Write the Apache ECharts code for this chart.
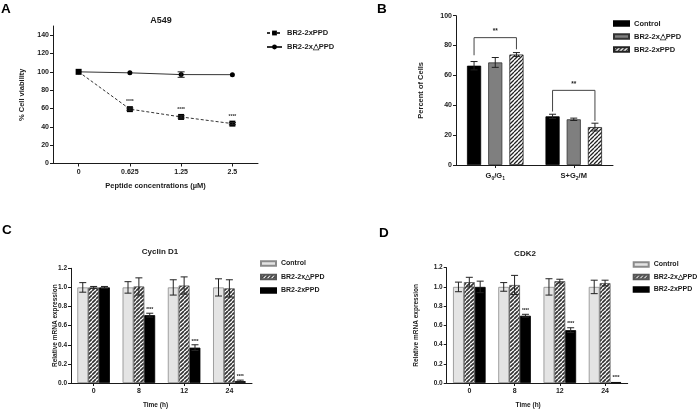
<!DOCTYPE html>
<html><head><meta charset="utf-8">
<script src="https://cdn.jsdelivr.net/npm/echarts@6/dist/echarts.min.js"></script>
<style>
html,body{margin:0;padding:0;background:#fff;}
.p{position:absolute;width:350px;height:207px;}
</style></head>
<body>
<div id="A" class="p" style="left:0;top:0"></div>
<div id="B" class="p" style="left:350px;top:0"></div>
<div id="C" class="p" style="left:0;top:207px"></div>
<div id="D" class="p" style="left:350px;top:207px"></div>
<script>
// ---------- DATA ----------
// Panel A
const concA = ['0', '0.625', '1.25', '2.5'];
const ppdA = [100, 59.3, 50.8, 43.5];
const ppdAErr = [0.8, 1.2, 1.2, 1.2];
const dppdA = [100, 98.9, 97.0, 96.9];
const dppdAErr = [0.8, 0.8, 3.0, 0.8];
const sigA = ['', '****', '****', '****'];
const yTicksA = [0, 20, 40, 60, 80, 100, 120, 140];
// Panel B
const phasesB = ['G0/G1', 'S+G2/M'];
const ctrlB = [66.5, 32.6];
const ctrlBErr = [2.8, 1.4];
const dppdB = [68.7, 30.6];
const dppdBErr = [3.3, 0.8];
const ppdB = [74.0, 25.4];
const ppdBErr = [1.3, 2.6];
// brackets: [category, bracket height, left leg end, right leg end]
const bracketsB = [[0, 85.3, 73.5, 77.5], [1, 50.0, 35.8, 29.5]];
const sigB = ['**', '**'];
// Panel C (Cyclin D1)
const timesCD = ['0', '8', '12', '24'];
const ctrlC = [1.0, 1.0, 1.0, 1.0];
const ctrlCErr = [0.05, 0.06, 0.08, 0.09];
const dppdC = [1.0, 1.01, 1.02, 0.99];
const dppdCErr = [0.01, 0.09, 0.09, 0.09];
const ppdC = [1.0, 0.71, 0.37, 0.02];
const ppdCErr = [0.01, 0.02, 0.03, 0.01];
const sigC = ['', '****', '****', '****'];
// Panel D (CDK2)
const ctrlD = [1.0, 1.0, 1.0, 1.0];
const ctrlDErr = [0.05, 0.045, 0.085, 0.07];
const dppdD = [1.05, 1.02, 1.06, 1.04];
const dppdDErr = [0.05, 0.10, 0.02, 0.03];
const ppdD = [1.0, 0.70, 0.55, 0.01];
const ppdDErr = [0.06, 0.015, 0.025, 0.005];
const sigD = ['', '****', '****', '****'];

// ---------- STYLE HELPERS ----------
const FONT = '"Liberation Sans", Arial, Helvetica, sans-serif';
const INK = '#1a1a1a';

function hatch(size, lw, fg, bg) {
  const c = document.createElement('canvas');
  c.width = size; c.height = size;
  const g = c.getContext('2d');
  g.fillStyle = bg; g.fillRect(0, 0, size, size);
  g.strokeStyle = fg; g.lineWidth = lw;
  g.beginPath();
  for (let k = -1; k <= 1; k++) { g.moveTo(k * size, size); g.lineTo(k * size + size, 0); }
  g.stroke();
  return { image: c, repeat: 'repeat' };
}

function axisBase(extra) {
  return Object.assign({
    nameMoveOverlap: false,
    axisLine: { show: true, lineStyle: { color: INK, width: 1 } },
    axisTick: { show: true, length: 3, lineStyle: { color: INK, width: 1 } },
    axisLabel: { color: INK, fontFamily: FONT, fontWeight: 'bold', fontSize: 7, margin: 4 },
    splitLine: { show: false },
    nameTextStyle: { color: INK, fontFamily: FONT, fontWeight: 'bold', fontSize: 7.5 }
  }, extra);
}

function errSeries(means, errs, offFrac, stars, starFont) {
  return {
    type: 'custom', z: 6, silent: true,
    data: means.map((m, i) => [i, m, errs[i]]),
    encode: { x: 0, y: 1 },
    renderItem(params, api) {
      const i = api.value(0), m = api.value(1), e = api.value(2);
      const band = api.size([1, 0])[0];
      const p = api.coord([i, m]);
      const x = p[0] + offFrac * band;
      const top = api.coord([i, m + e])[1];
      const bot = api.coord([i, Math.max(0, m - e)])[1];
      const cap = 3.5;
      const st = { stroke: '#222', lineWidth: 1 };
      const ch = [];
      if (Math.abs(bot - top) > 1.5) {
        ch.push({ type: 'line', shape: { x1: x, y1: top, x2: x, y2: bot }, style: st });
        ch.push({ type: 'line', shape: { x1: x - cap, y1: top, x2: x + cap, y2: top }, style: st });
        ch.push({ type: 'line', shape: { x1: x - cap, y1: bot, x2: x + cap, y2: bot }, style: st });
      }
      if (stars && stars[i]) {
        ch.push({ type: 'text', style: { text: stars[i], x: x, y: top - 1, align: 'center', verticalAlign: 'bottom',
          fontSize: starFont || 5, fontWeight: 'bold', fontFamily: FONT, fill: '#222' } });
      }
      return { type: 'group', children: ch };
    }
  };
}

function letter(t, x, y) {
  return { type: 'text', left: x, top: y, style: { text: t, fontSize: 13.5, fontWeight: 'bold', fontFamily: FONT, fill: '#000' } };
}

// ---------- PANEL A ----------
const chA = echarts.init(document.getElementById('A'), null, { renderer: 'canvas' });
chA.setOption({
  animation: false,
  graphic: [letter('A', 1, 2)],
  title: { text: 'A549', left: 156, top: 11, textAlign: 'center',
    textStyle: { fontFamily: FONT, fontWeight: 'bold', fontSize: 9, color: INK } },
  legend: {
    orient: 'vertical', left: 266, top: 29, padding: 0, itemWidth: 15, itemHeight: 6, itemGap: 6,
    textStyle: { fontFamily: FONT, fontWeight: 'bold', fontSize: 7.5, color: INK },
    data: ['BR2-2xPPD', 'BR2-2x\u25B3PPD']
  },
  grid: { left: 53, top: 26, width: 205, height: 137.5, containLabel: false },
  xAxis: axisBase({ type: 'category', data: concA, boundaryGap: true,
    axisTick: { show: true, length: 3, alignWithLabel: true, lineStyle: { color: INK } },
    axisLabel: { color: INK, fontFamily: FONT, fontWeight: 'bold', fontSize: 7, margin: 5, interval: 0 },
    name: 'Peptide concentrations (\u00B5M)', nameLocation: 'middle', nameGap: 18 }),
  yAxis: axisBase({ type: 'value', min: 0, max: 150, interval: 10,
    axisTick: { show: true, length: 3, customValues: yTicksA, lineStyle: { color: INK } },
    axisLabel: { color: INK, fontFamily: FONT, fontWeight: 'bold', fontSize: 7, margin: 4, customValues: yTicksA },
    name: '% Cell viability', nameLocation: 'middle', nameGap: 27 }),
  series: [
    { name: 'BR2-2xPPD', type: 'line', data: ppdA, symbol: 'rect', symbolSize: 6,
      lineStyle: { color: '#333', width: 1, type: [3, 2] }, itemStyle: { color: '#000' },
      label: { show: true, position: 'top', distance: 2, fontSize: 5, fontWeight: 'bold', fontFamily: FONT, color: '#333',
        formatter: p => sigA[p.dataIndex] } },
    { name: 'BR2-2x\u25B3PPD', type: 'line', data: dppdA, symbol: 'circle', symbolSize: 5,
      lineStyle: { color: '#333', width: 1 }, itemStyle: { color: '#000' } },
    errSeries(ppdA, ppdAErr, 0),
    errSeries(dppdA, dppdAErr, 0)
  ]
});

// ---------- PANEL B ----------
const hatchB = hatch(4, 1.3, '#222', '#fff');
const chB = echarts.init(document.getElementById('B'), null, { renderer: 'canvas' });
const bw = '18%';
chB.setOption({
  animation: false,
  graphic: [letter('B', 27, 2)],
  legend: {
    orient: 'vertical', left: 263, top: 19.5, padding: 0, itemWidth: 15, itemHeight: 4.5, itemGap: 5,
    icon: 'rect',
    textStyle: { fontFamily: FONT, fontWeight: 'bold', fontSize: 7.5, color: INK },
    data: ['Control', 'BR2-2x\u25B3PPD', 'BR2-2xPPD']
  },
  grid: { left: 106, top: 15.7, width: 157, height: 149.3 },
  xAxis: axisBase({ type: 'category', data: phasesB,
    axisTick: { show: true, length: 3, alignWithLabel: true, lineStyle: { color: INK } },
    axisLabel: { color: INK, fontFamily: FONT, fontWeight: 'bold', fontSize: 7.5, margin: 6, interval: 0,
      formatter: v => v === 'G0/G1' ? '{n|G}{s|0}{n|/G}{s|1}' : '{n|S+G}{s|2}{n|/M}',
      rich: { n: { fontSize: 7.5, fontWeight: 'bold', fontFamily: FONT, color: INK, lineHeight: 10 },
              s: { fontSize: 5, fontWeight: 'bold', fontFamily: FONT, color: INK, lineHeight: 6, verticalAlign: 'bottom' } } } }),
  yAxis: axisBase({ type: 'value', min: 0, max: 100, interval: 20,
    name: 'Percent of Cells', nameLocation: 'middle', nameGap: 31 }),
  series: [
    { name: 'Control', type: 'bar', data: ctrlB, barWidth: bw, barGap: '50%',
      itemStyle: { color: '#000', borderColor: '#000', borderWidth: 0.8 } },
    { name: 'BR2-2x\u25B3PPD', type: 'bar', data: dppdB, barWidth: bw, barGap: '50%',
      itemStyle: { color: '#7f7f7f', borderColor: '#333', borderWidth: 0.8 } },
    { name: 'BR2-2xPPD', type: 'bar', data: ppdB, barWidth: bw, barGap: '50%',
      itemStyle: { color: hatchB, borderColor: '#222', borderWidth: 0.8 } },
    errSeries(ctrlB, ctrlBErr, -0.27),
    errSeries(dppdB, dppdBErr, 0),
    errSeries(ppdB, ppdBErr, 0.27),
    { type: 'custom', z: 7, silent: true, data: bracketsB, encode: { x: 0, y: 1 },
      renderItem(params, api) {
        const i = api.value(0);
        const band = api.size([1, 0])[0];
        const c = api.coord([i, api.value(1)]);
        const xl = c[0] - 0.27 * band, xr = c[0] + 0.27 * band;
        const yl = api.coord([i, api.value(2)])[1], yr = api.coord([i, api.value(3)])[1];
        return { type: 'group', children: [
          { type: 'polyline', shape: { points: [[xl, yl], [xl, c[1]], [xr, c[1]], [xr, yr]] },
            style: { stroke: '#444', lineWidth: 1, fill: null } },
          { type: 'text', style: { text: sigB[params.dataIndex], x: c[0], y: c[1] - 3, align: 'center', verticalAlign: 'bottom',
            fontSize: 6.5, fontWeight: 'bold', fontFamily: FONT, fill: '#222' } }
        ] };
      } }
  ]
});

// ---------- PANELS C & D ----------
const hatchCD = hatch(4, 1.7, '#333333', '#ffffff');
function panelCD(el, L, title, titleX, titleTop, gridLeft, gridTop, gridH, yGap, xNamePad, legLeft, legTop, legGap, ctrl, ctrlE, dppd, dppdE, ppd, ppdE, sig) {
  const ch = echarts.init(document.getElementById(el), null, { renderer: 'canvas' });
  const w = '24%';
  ch.setOption({
    animation: false,
    graphic: [letter(L[0], L[1], L[2])],
    title: { text: title, left: titleX, top: titleTop, textAlign: 'center',
      textStyle: { fontFamily: FONT, fontWeight: 'bold', fontSize: 8, color: INK } },
    legend: {
      orient: 'vertical', left: legLeft, top: legTop, padding: 0, itemWidth: 15, itemHeight: 4.5, itemGap: legGap,
      icon: 'rect',
      textStyle: { fontFamily: FONT, fontWeight: 'bold', fontSize: 7, color: INK },
      data: ['Control', 'BR2-2x\u25B3PPD', 'BR2-2xPPD']
    },
    grid: { left: gridLeft, top: gridTop, width: 181, height: gridH },
    xAxis: axisBase({ type: 'category', data: timesCD,
      axisTick: { show: true, length: 3, alignWithLabel: true, lineStyle: { color: INK } },
      axisLabel: { color: INK, fontFamily: FONT, fontWeight: 'bold', fontSize: 7, margin: 5, interval: 0 },
      name: 'Time (h)', nameLocation: 'middle', nameGap: 19,
      nameTextStyle: { color: INK, fontFamily: FONT, fontWeight: 'bold', fontSize: 6.5, padding: [0, xNamePad, 0, 0] } }),
    yAxis: axisBase({ type: 'value', min: 0, max: 1.2, interval: 0.2,
      axisLabel: { color: INK, fontFamily: FONT, fontWeight: 'bold', fontSize: 6.5, margin: 4, formatter: v => v.toFixed(1) },
      name: 'Relative mRNA expression', nameLocation: 'middle', nameGap: yGap,
      nameTextStyle: { color: INK, fontFamily: FONT, fontWeight: 'bold', fontSize: 6.5 } }),
    series: [
      { name: 'Control', type: 'bar', data: ctrl, barWidth: w, barGap: '0%',
        itemStyle: { color: '#e4e4e4', borderColor: '#8a8a8a', borderWidth: 0.8 } },
      { name: 'BR2-2x\u25B3PPD', type: 'bar', data: dppd, barWidth: w, barGap: '0%',
        itemStyle: { color: hatchCD, borderColor: '#555', borderWidth: 0.8 } },
      { name: 'BR2-2xPPD', type: 'bar', data: ppd, barWidth: w, barGap: '0%',
        itemStyle: { color: '#000', borderColor: '#000', borderWidth: 0.8 } },
      errSeries(ctrl, ctrlE, -0.24),
      errSeries(dppd, dppdE, 0),
      errSeries(ppd, ppdE, 0.24, sig, 4.5)
    ]
  });
}
panelCD('C', ['C', 2, 16], 'Cyclin D1', 155, 36, 71, 61.3, 119, 12, 12, 260, 53, 6.5,
  ctrlC, ctrlCErr, dppdC, dppdCErr, ppdC, ppdCErr, sigC);
panelCD('D', ['D', 29, 19], 'CDK2', 170, 38, 96.7, 60.7, 120, 26.5, 18, 282.7, 54, 5.5,
  ctrlD, ctrlDErr, dppdD, dppdDErr, ppdD, ppdDErr, sigD);
</script>
</body></html>
